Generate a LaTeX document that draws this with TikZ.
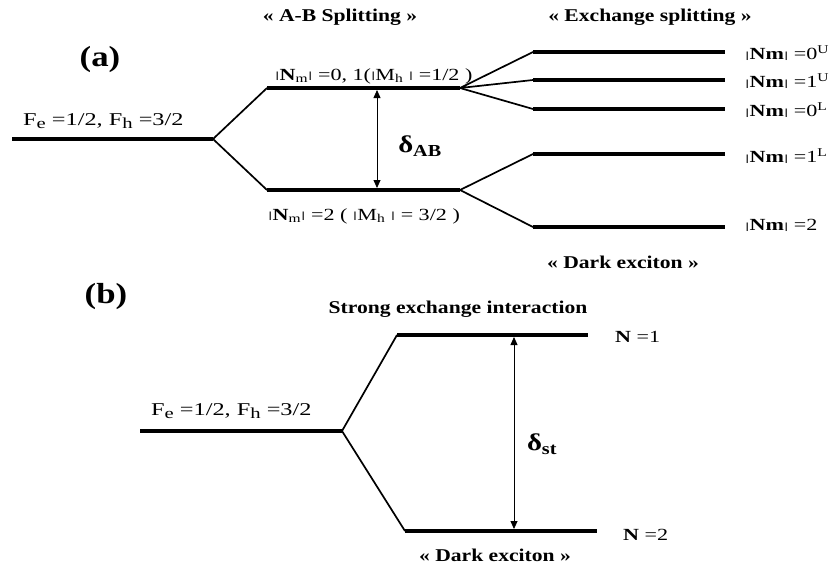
\documentclass[tikz,border=0pt]{standalone}
\usepackage{fontspec}
\setmainfont[FakeStretch=1.2]{Liberation Serif}
\newfontfamily\lblfont[FakeStretch=1.3]{Liberation Serif}
\newfontfamily\flblfont[FakeStretch=1.35]{Liberation Serif}
\usetikzlibrary{arrows.meta}

\newcommand{\abar}{\raisebox{0.15ex}{\scalebox{1}[0.55]{|}}}
\newcommand{\lo}[1]{\raisebox{-0.45ex}{\scalebox{0.85}{#1}}}

\begin{document}
\begin{tikzpicture}[
  x=1pt, y=-1pt,
  level/.style={line width=4pt},
  branch/.style={line width=1.7pt},
  gap/.style={{Triangle[length=8pt,width=7pt]}-{Triangle[length=8pt,width=7pt]}, line width=0.8pt},
  lbl/.style={font=\lblfont\fontsize{17}{19}\selectfont, inner sep=0pt},
  flbl/.style={font=\flblfont\fontsize{18}{20}\selectfont, inner sep=0pt},
  head/.style={font=\fontsize{18}{20}\selectfont\bfseries, inner sep=0pt},
  tag/.style={font=\fontsize{29}{32}\selectfont\bfseries, inner sep=0pt},
  gaplbl/.style={font=\fontsize{24}{26}\selectfont\bfseries, inner sep=0pt}
]
\useasboundingbox (0,0) rectangle (838,566);

% (a) level positions
\coordinate (f0) at (12,139);
\coordinate (f1) at (213,139);
\coordinate (ab0) at (267,88);
\coordinate (ab1) at (460,88);
\coordinate (be0) at (267,190);
\coordinate (be1) at (460,190);
\coordinate (ou0) at (533,52);   \coordinate (ou1) at (725,52);
\coordinate (iu0) at (533,80);   \coordinate (iu1) at (725,80);
\coordinate (ol0) at (533,109);  \coordinate (ol1) at (725,109);
\coordinate (il0) at (533,154);  \coordinate (il1) at (725,154);
\coordinate (tw0) at (533,227);  \coordinate (tw1) at (725,227);

\draw[level] (f0) -- (f1);
\draw[level] (ab0) -- (ab1);
\draw[level] (be0) -- (be1);
\draw[level] (ou0) -- (ou1);
\draw[level] (iu0) -- (iu1);
\draw[level] (ol0) -- (ol1);
\draw[level] (il0) -- (il1);
\draw[level] (tw0) -- (tw1);

\draw[branch] (ab0) -- (f1) -- (be0);
\draw[branch] (ou0) -- (ab1) -- (iu0);
\draw[branch] (ab1) -- (ol0);
\draw[branch] (il0) -- (be1) -- (tw0);

\coordinate (gt) at (377,90);
\coordinate (gb) at (377,188);
\draw[gap] (gt) -- (gb);

\node[tag] (taga) at (100,60) {(a)};
\node[head] (absplit) at (340,17) {« A-B Splitting »};
\node[head] (exsplit) at (650,17) {« Exchange splitting »};
\node[head] (darka) at (623,262) {« Dark exciton »};
\node[flbl, anchor=base west] (fa) at (23,125) {F\lo{e} =1/2, F\lo{h} =3/2};
\node[lbl, anchor=base west] (upa) at (275,80) {\abar\textbf{N}\textsubscript{m}\abar{} =0, 1(\abar M\textsubscript{h} \abar{} =1/2 )};
\node[lbl, anchor=base west] (loa) at (268,220) {\abar\textbf{N}\textsubscript{m}\abar{} =2 ( \abar M\textsubscript{h} \abar{} = 3/2 )};
\node[gaplbl] (dab) at (420,146) {δ\textsubscript{AB}};

\node[lbl, anchor=west] (nou) at (745,53) {\abar\textbf{Nm}\abar{} =0\textsuperscript{U}};
\node[lbl, anchor=west] (niu) at (745,81) {\abar\textbf{Nm}\abar{} =1\textsuperscript{U}};
\node[lbl, anchor=west] (nol) at (745,110) {\abar\textbf{Nm}\abar{} =0\textsuperscript{L}};
\node[lbl, anchor=west] (nil) at (745,156) {\abar\textbf{Nm}\abar{} =1\textsuperscript{L}};
\node[lbl, anchor=west] (ntw) at (745,225) {\abar\textbf{Nm}\abar{} =2};

% (b) level positions
\coordinate (g0) at (140,431);
\coordinate (g1) at (342,431);
\coordinate (sn0) at (397,335);
\coordinate (sn1) at (588,335);
\coordinate (dn0) at (405,531);
\coordinate (dn1) at (597,531);

\draw[level] (g0) -- (g1);
\draw[level] (sn0) -- (sn1);
\draw[level] (dn0) -- (dn1);
\draw[branch] (sn0) -- (g1) -- (dn0);

\coordinate (ht) at (514,337);
\coordinate (hb) at (514,529);
\draw[gap] (ht) -- (hb);

\node[tag] (tagb) at (106,297) {(b)};
\node[head] (strong) at (458,309) {Strong exchange interaction};
\node[head] (darkb) at (495,555) {« Dark exciton »};
\node[flbl, anchor=base west] (fb) at (151,415) {F\lo{e} =1/2, F\lo{h} =3/2};
\node[gaplbl] (dst) at (542,444) {δ\textsubscript{st}};
\node[lbl, anchor=west] (none) at (615,337) {\textbf{N} =1};
\node[lbl, anchor=west] (ntwo) at (623,535) {\textbf{N} =2};
\end{tikzpicture}
\end{document}
